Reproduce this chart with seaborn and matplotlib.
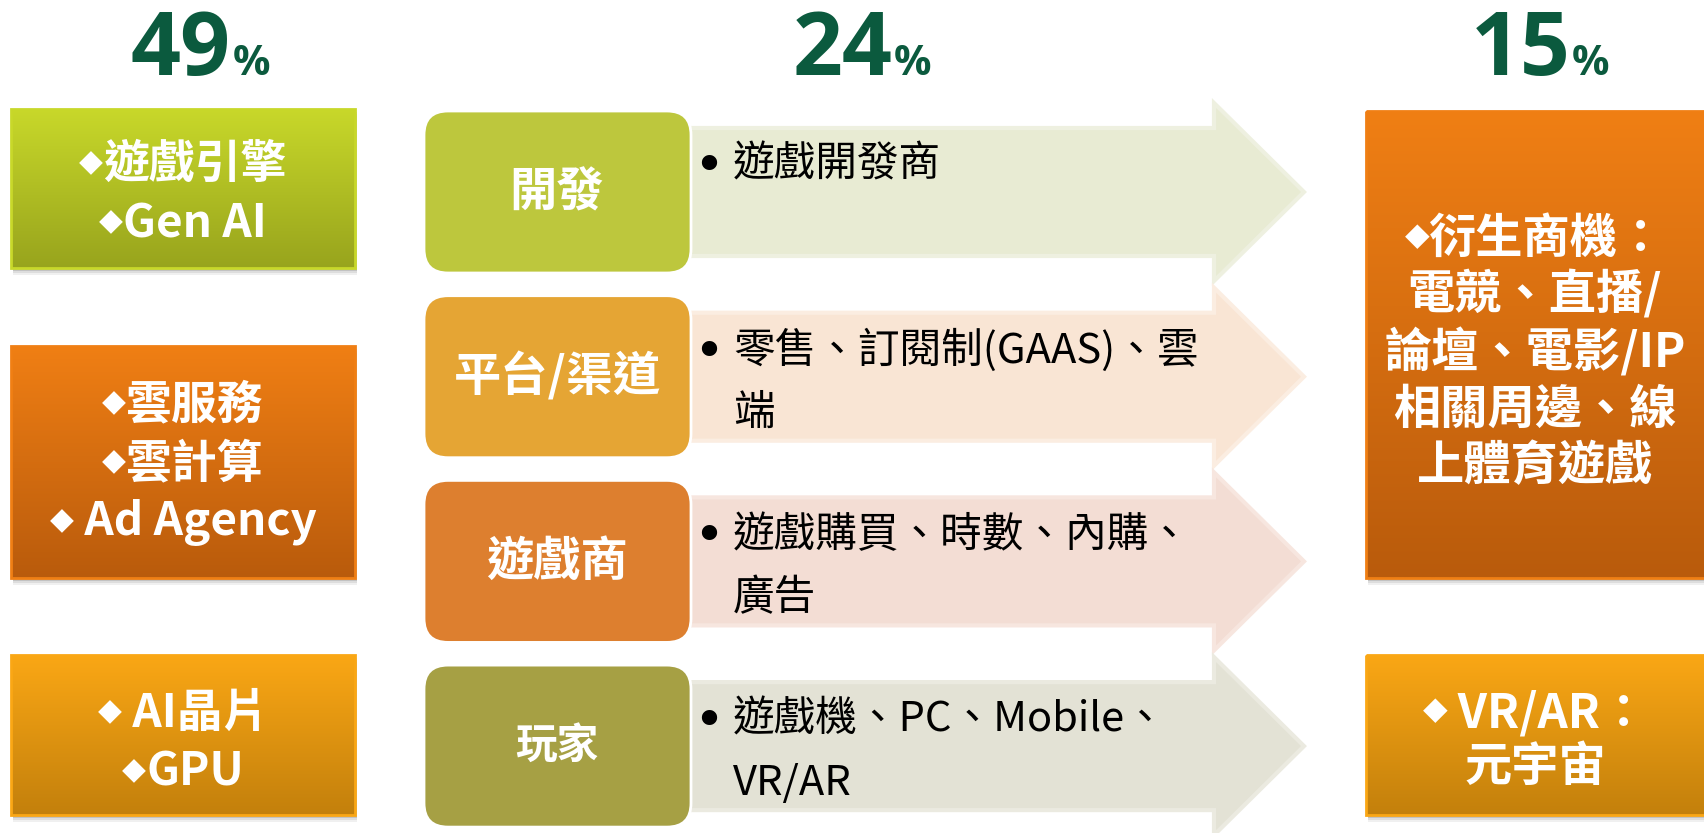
import numpy as np
import seaborn as sns
import matplotlib.pyplot as plt
from matplotlib.patches import Rectangle, FancyBboxPatch, Polygon
from matplotlib.colors import LinearSegmentedColormap

# ---- data ----
pct_values = [49, 24, 15]
pct_centers = [199, 861, 1539]

stage_labels = ["開發", "平台/渠道", "遊戲商", "玩家"]
stage_items = [["遊戲開發商"],
               ["零售、訂閱制(GAAS)、雲", "端"],
               ["遊戲購買、時數、內購、", "廣告"],
               ["遊戲機、PC、Mobile、", "VR/AR"]]
stage_colors = ["#bdc73d", "#e5a534", "#dd7f2f", "#a6a044"]
arrow_colors = ["#e8ebd3", "#f9e5d4", "#f3ddd4", "#e3e2d5"]
arrow_edges = ["#eef0e0", "#fbede1", "#f7e6df", "#ebeae0"]

left_items = [["◆遊戲引擎", "◆Gen AI"],
              ["◆雲服務", "◆雲計算", "◆ Ad Agency"],
              ["◆ AI晶片", "◆GPU"]]
left_grads = [("#c8d82a", "#98a41d"), ("#f07f14", "#b95b0c"), ("#faa715", "#c3800c")]

right_items = [["◆衍生商機：", "電競、直播/", "論壇、電影/IP", "相關周邊、線", "上體育遊戲"],
               ["◆ VR/AR：", "元宇宙"]]
right_grads = [("#f07f14", "#b95b0c"), ("#faa715", "#c3800c")]

sns.set_theme(style="white")
plt.rcParams['font.family'] = ['Noto Sans CJK TC', 'DejaVu Sans']

fig = plt.figure(figsize=(17.04, 8.33), dpi=100)
ax = fig.add_axes([0, 0, 1, 1])
ax.axis('off')
r = fig.canvas.get_renderer()


def grad_box(x0, y0, x1, y1, c_top, c_bot, z=2):
    for k, a in [(7, 0.06), (5, 0.08), (3, 0.12)]:
        ax.add_patch(Rectangle((x0 + 2, y0 + k), x1 - x0, y1 - y0, fc='black', alpha=a, ec='none', zorder=z - 1))
    cmap = LinearSegmentedColormap.from_list('g', [c_top, c_bot])
    grad = np.linspace(0, 1, 256).reshape(-1, 1)
    ax.imshow(grad, cmap=cmap, extent=[x0, x1, y1, y0], aspect='auto', zorder=z, interpolation='bilinear')
    ax.add_patch(Rectangle((x0, y0), x1 - x0, y1 - y0, fc='none', ec=c_top, lw=2, zorder=z + 0.1))


def box_line(cx, y, s, size):
    if s.startswith("◆"):
        d = ax.text(0, y - 2, "◆", fontsize=size * 0.68, color='white', va='center', ha='left',
                    family=['DejaVu Sans'], zorder=5)
        t = ax.text(0, y, s[1:], fontsize=size, color='white', weight='bold', va='center', ha='left', zorder=5)
        wd = d.get_window_extent(r).width
        wt = t.get_window_extent(r).width
        x0 = cx - (wd + wt) / 2
        d.set_x(x0)
        t.set_x(x0 + wd)
    else:
        ax.text(cx, y, s, fontsize=size, color='white', weight='bold', va='center', ha='center', zorder=5)


# percentages
for v, cx in zip(pct_values, pct_centers):
    n = ax.text(0, 75, str(v), fontsize=63, weight='bold', family=['Open Sans'], color='#0b5a3e', va='baseline')
    p = ax.text(0, 75, "%", fontsize=30, weight='bold', family=['Open Sans'], color='#0b5a3e', va='baseline')
    wn = n.get_window_extent(r).width
    wp = p.get_window_extent(r).width
    x0 = cx - (wn + wp) / 2
    n.set_x(x0)
    p.set_x(x0 + wn + 2)

# left boxes
left_boxes = [(109, 268), (346, 578), (655, 815)]
left_offsets = [6, 2, 8]
for (y0, y1), lines, (ct, cb), off in zip(left_boxes, left_items, left_grads, left_offsets):
    grad_box(11, y0, 355, y1, ct, cb)
    yc = (y0 + y1) / 2 + off
    n = len(lines)
    for i, s in enumerate(lines):
        box_line(183, yc + (i - (n - 1) / 2) * 59, s, 33)

# right boxes
right_boxes = [(111, 578), (655, 815)]
right_offsets = [8, 5]
for (y0, y1), lines, (ct, cb), off in zip(right_boxes, right_items, right_grads, right_offsets):
    grad_box(1366, y0, 1710, y1, ct, cb)
    yc = (y0 + y1) / 2 + off
    n = len(lines)
    step = 57 if n > 2 else 54
    for i, s in enumerate(lines):
        box_line(1535, yc + (i - (n - 1) / 2) * step, s, 34)

# middle stages with arrows
for i, (lab, items) in enumerate(zip(stage_labels, stage_items)):
    yc = 192 + i * 184.7
    body, head = 64, 89
    ax.add_patch(Polygon([(670, yc - body), (1214, yc - body), (1214, yc - head), (1304, yc),
                          (1214, yc + head), (1214, yc + body), (670, yc + body)],
                         closed=True, fc=arrow_colors[i], ec=arrow_edges[i], lw=3, zorder=1))
    ax.add_patch(FancyBboxPatch((424, yc - 81), 267, 162, boxstyle="round,pad=0,rounding_size=24",
                                fc=stage_colors[i], ec='white', lw=2, zorder=3))
    ax.text(557, yc, lab, fontsize=30 if lab == "玩家" else 34, color='white', weight='bold',
            ha='center', va='center', zorder=4)
    y1 = yc - 26 if len(items) > 1 else yc - 27
    ax.text(693, y1 + 2, "•", fontsize=38, color='black', ha='left', va='center', family=['DejaVu Sans'], zorder=4)
    for j, s in enumerate(items):
        ax.text(733, y1 + j * 63, s, fontsize=30, color='black', ha='left', va='center', zorder=4)

ax.set_xlim(0, 1704)
ax.set_ylim(833, 0)
fig.savefig("out.png", dpi=100, facecolor='white')
